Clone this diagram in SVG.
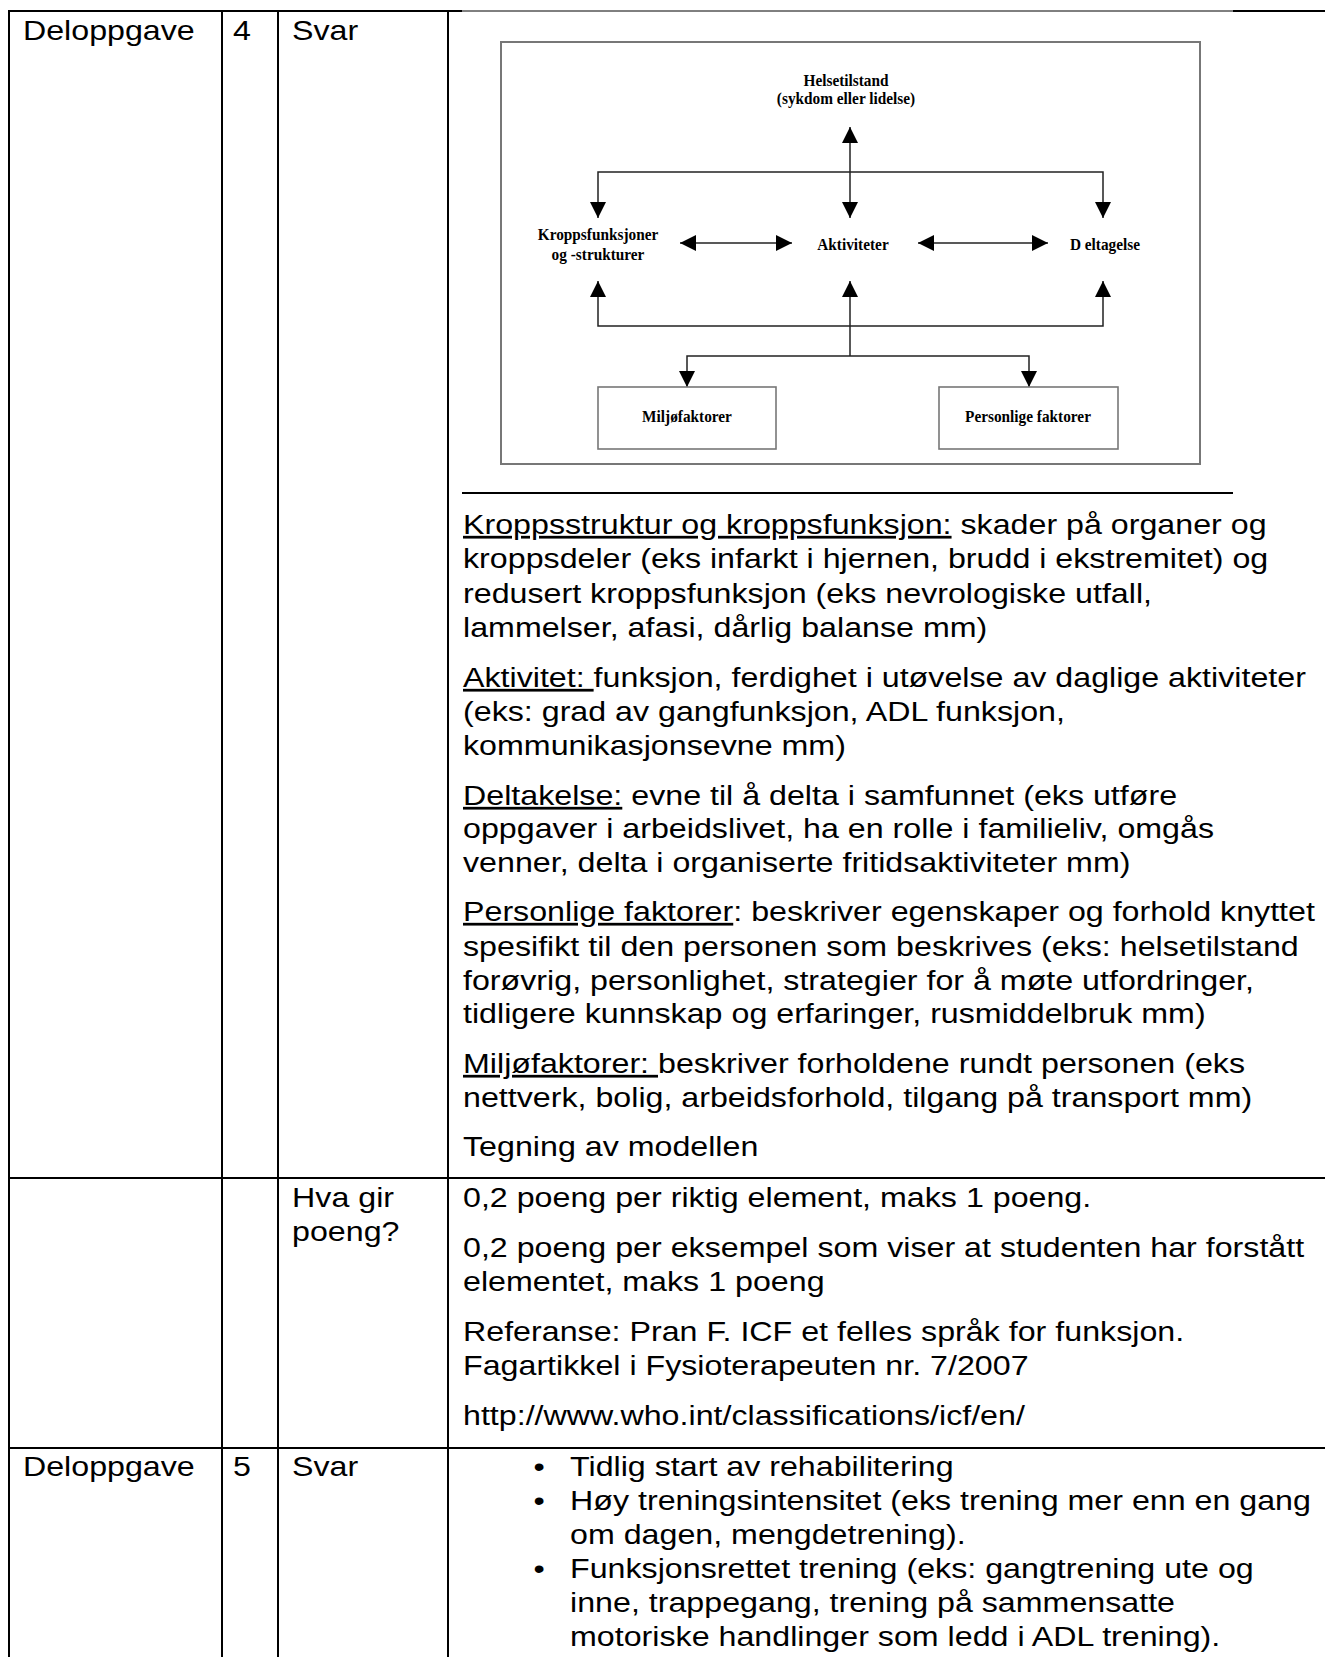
<svg xmlns="http://www.w3.org/2000/svg" width="1325" height="1657" viewBox="0 0 1325 1657">
<defs>
<style>
.t{font-family:"Liberation Sans",Arial,sans-serif;font-size:27.5px;fill:#000}
.u{text-decoration:underline}
.d{font-family:"Liberation Serif","Times New Roman",serif;font-weight:bold;font-size:16.3px;fill:#000;text-anchor:middle}
.grid line{stroke:#000;stroke-width:2}
.conn{stroke:#222;stroke-width:1.5;fill:none}
.box{fill:#fff;stroke:#777;stroke-width:2}
.sbox{fill:#fff;stroke:#777;stroke-width:1.6}
</style>
<marker id="ah" viewBox="0 0 16 16" refX="16" refY="8" markerWidth="16" markerHeight="16" markerUnits="userSpaceOnUse" orient="auto-start-reverse"><path d="M0,0L16,8L0,16z" fill="#000"/></marker>
</defs>
<rect width="1325" height="1657" fill="#fff"/>

<g id="table-grid" class="grid">
<line x1="8" y1="11" x2="462" y2="11"/>
<line x1="462" y1="11" x2="1233" y2="11" style="stroke-width:1"/>
<line x1="1233" y1="11" x2="1325" y2="11"/>
<line x1="8" y1="1178" x2="1325" y2="1178"/>
<line x1="8" y1="1448" x2="1325" y2="1448"/>
<line x1="9" y1="10" x2="9" y2="1657"/>
<line x1="222" y1="10" x2="222" y2="1657"/>
<line x1="278" y1="10" x2="278" y2="1657"/>
<line x1="448" y1="10" x2="448" y2="1657"/>
<line x1="462" y1="493" x2="1233" y2="493"/>
</g>

<g id="icf-diagram">
<rect class="box" x="501" y="42" width="699" height="422"/>
<g id="connectors" class="conn">
<line x1="850" y1="127" x2="850" y2="218" marker-start="url(#ah)" marker-end="url(#ah)"/>
<path d="M598,218V172H1103V218" marker-start="url(#ah)" marker-end="url(#ah)"/>
<line x1="680" y1="243" x2="792" y2="243" marker-start="url(#ah)" marker-end="url(#ah)"/>
<line x1="918" y1="243" x2="1048" y2="243" marker-start="url(#ah)" marker-end="url(#ah)"/>
<path d="M598,281V326H1103V281" marker-start="url(#ah)" marker-end="url(#ah)"/>
<line x1="850" y1="356" x2="850" y2="281" marker-end="url(#ah)"/>
<path d="M687,387V356H1029V387" marker-start="url(#ah)" marker-end="url(#ah)"/>
</g>
<g id="node-helsetilstand">
<text class="d" transform="translate(846 86) scale(0.94 1)">Helsetilstand</text>
<text class="d" transform="translate(846 104) scale(0.94 1)">(sykdom eller lidelse)</text>
</g>
<g id="node-kroppsfunksjoner">
<text class="d" transform="translate(598 240) scale(0.94 1)">Kroppsfunksjoner</text>
<text class="d" transform="translate(598 260) scale(0.94 1)">og -strukturer</text>
</g>
<g id="node-aktiviteter">
<text class="d" transform="translate(853 250) scale(0.94 1)">Aktiviteter</text>
</g>
<g id="node-deltagelse">
<text class="d" transform="translate(1105 250) scale(0.94 1)">D eltagelse</text>
</g>
<g id="node-miljofaktorer">
<rect class="sbox" x="598" y="387" width="178" height="62"/>
<text class="d" transform="translate(687 422) scale(0.94 1)">Miljøfaktorer</text>
</g>
<g id="node-personlige">
<rect class="sbox" x="939" y="387" width="179" height="62"/>
<text class="d" transform="translate(1028 422) scale(0.94 1)">Personlige faktorer</text>
</g>
</g>

<g id="table-text" class="t" transform="scale(1.171 1)">
<text x="19.6" y="40">Deloppgave</text>
<text x="199" y="40">4</text>
<text x="249.4" y="40">Svar</text>

<text x="395.4" y="534"><tspan class="u">Kroppsstruktur og kroppsfunksjon:</tspan> skader på organer og</text>
<text x="395.4" y="568">kroppsdeler (eks infarkt i hjernen, brudd i ekstremitet) og</text>
<text x="395.4" y="603">redusert kroppsfunksjon (eks nevrologiske utfall,</text>
<text x="395.4" y="637">lammelser, afasi, dårlig balanse mm)</text>
<text x="395.4" y="687"><tspan class="u">Aktivitet: </tspan>funksjon, ferdighet i utøvelse av daglige aktiviteter</text>
<text x="395.4" y="721">(eks: grad av gangfunksjon, ADL funksjon,</text>
<text x="395.4" y="755">kommunikasjonsevne mm)</text>
<text x="395.4" y="805"><tspan class="u">Deltakelse:</tspan> evne til å delta i samfunnet (eks utføre</text>
<text x="395.4" y="838">oppgaver i arbeidslivet, ha en rolle i familieliv, omgås</text>
<text x="395.4" y="872">venner, delta i organiserte fritidsaktiviteter mm)</text>
<text x="395.4" y="921"><tspan class="u">Personlige faktorer</tspan>: beskriver egenskaper og forhold knyttet</text>
<text x="395.4" y="956">spesifikt til den personen som beskrives (eks: helsetilstand</text>
<text x="395.4" y="990">forøvrig, personlighet, strategier for å møte utfordringer,</text>
<text x="395.4" y="1023">tidligere kunnskap og erfaringer, rusmiddelbruk mm)</text>
<text x="395.4" y="1073"><tspan class="u">Miljøfaktorer: </tspan>beskriver forholdene rundt personen (eks</text>
<text x="395.4" y="1107">nettverk, bolig, arbeidsforhold, tilgang på transport mm)</text>
<text x="395.4" y="1156">Tegning av modellen</text>

<text x="249.4" y="1207">Hva gir</text>
<text x="249.4" y="1241">poeng?</text>
<text x="395.4" y="1207">0,2 poeng per riktig element, maks 1 poeng.</text>
<text x="395.4" y="1257">0,2 poeng per eksempel som viser at studenten har forstått</text>
<text x="395.4" y="1291">elementet, maks 1 poeng</text>
<text x="395.4" y="1341">Referanse: Pran F. ICF et felles språk for funksjon.</text>
<text x="395.4" y="1375">Fagartikkel i Fysioterapeuten nr. 7/2007</text>
<text x="395.4" y="1425">http://www.who.int/classifications/icf/en/</text>

<text x="19.6" y="1476">Deloppgave</text>
<text x="199" y="1476">5</text>
<text x="249.4" y="1476">Svar</text>
<text x="455.5" y="1476">•</text>
<text x="486.8" y="1476">Tidlig start av rehabilitering</text>
<text x="455.5" y="1510">•</text>
<text x="486.8" y="1510">Høy treningsintensitet (eks trening mer enn en gang</text>
<text x="486.8" y="1544">om dagen, mengdetrening).</text>
<text x="455.5" y="1578">•</text>
<text x="486.8" y="1578">Funksjonsrettet trening (eks: gangtrening ute og</text>
<text x="486.8" y="1612">inne, trappegang, trening på sammensatte</text>
<text x="486.8" y="1646">motoriske handlinger som ledd i ADL trening).</text>
</g>
</svg>
